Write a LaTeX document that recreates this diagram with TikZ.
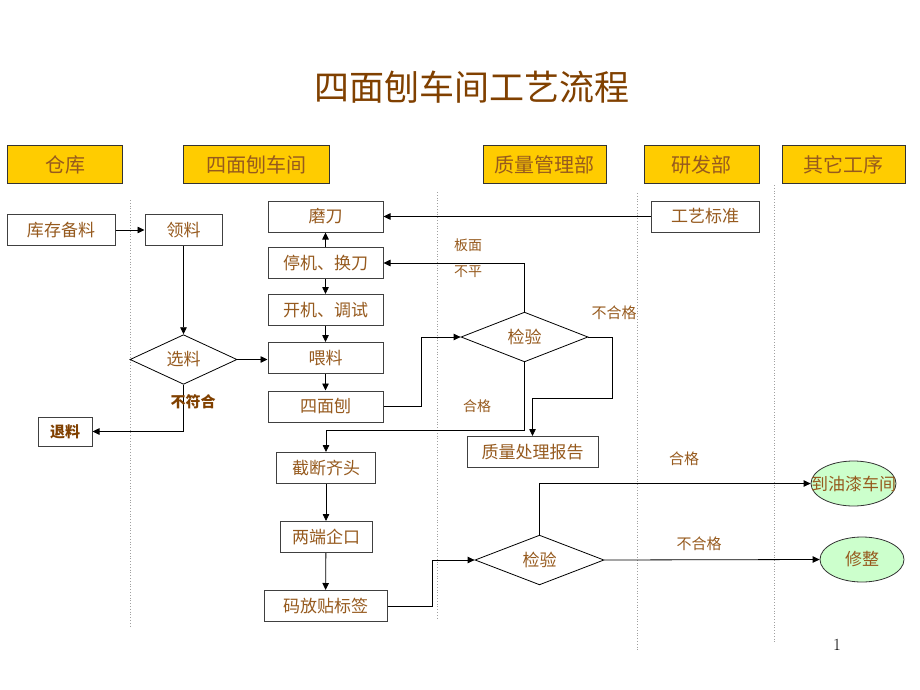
\documentclass[tikz,border=0pt]{standalone}
\usepackage{fontspec}
\newfontfamily\cjk{Noto Sans CJK SC}
\usetikzlibrary{shapes.geometric,arrows.meta}
\definecolor{headgold}{RGB}{255,204,0}
\definecolor{txtbrown}{RGB}{150,90,30}
\definecolor{darkbrown}{RGB}{128,64,0}
\definecolor{lanegray}{RGB}{160,160,160}
\definecolor{okgreen}{RGB}{204,255,204}

\begin{document}
\begin{tikzpicture}[x=1pt,y=-1pt]
\tikzstyle{every node}+=[inner sep=0pt, font=\cjk\fontsize{17}{17}\selectfont, text=txtbrown]
\tikzstyle{head}=[draw=black!80, line width=1pt, fill=headgold, minimum height=38pt, font=\cjk\fontsize{20}{20}\selectfont]
\tikzstyle{proc}=[draw=black!75, line width=1pt, fill=white, minimum height=31pt]
\tikzstyle{test}=[diamond, draw=black, line width=0.8pt, fill=white, minimum height=46pt]
\tikzstyle{goal}=[ellipse, draw=black!80, line width=0.8pt, fill=okgreen, minimum width=85pt, minimum height=45pt, font=\cjk\fontsize{17}{17}\selectfont]
\tikzstyle{flow}=[draw=black, line width=0.8pt, -{Triangle[length=7pt,width=6.5pt]}]
\tikzstyle{lane}=[draw=lanegray, line width=0.8pt, dotted]
\tikzstyle{note}=[font=\cjk\fontsize{14}{14}\selectfont]
\useasboundingbox (0,0) rectangle (920,690);
\node[font=\cjk\fontsize{35}{35}\selectfont, text=darkbrown] (title) at (472,87) {四面刨车间工艺流程};
\node[head, minimum width=115pt] (hwh) at (65,164.5) {仓库};
\node[head, minimum width=146pt] (hws) at (256,164.5) {四面刨车间};
\node[head, minimum width=123pt] (hqm) at (544.5,164.5) {质量管理部};
\node[head, minimum width=115pt] (hrd) at (701.5,164.5) {研发部};
\node[head, minimum width=123pt] (hot) at (843.5,164.5) {其它工序};
\draw[lane] (130,200) -- (130,627);
\draw[lane] (437,192) -- (437,620);
\draw[lane] (637,193) -- (637,650);
\draw[lane] (774,185) -- (774,642);
\node[proc, minimum width=108pt] (stock) at (61,230) {库存备料};
\node[proc, minimum width=77pt] (take) at (183.5,230) {领料};
\node[test, minimum width=107pt, minimum height=45pt] (pick) at (183.5,359.5) {选料};
\node[proc, minimum width=54pt, minimum height=29pt, font=\cjk\bfseries\fontsize{15}{15}\selectfont, text=darkbrown] (ret) at (65,431.5) {退料};
\node[proc, minimum width=115pt] (grind) at (325.5,216.5) {磨刀};
\node[proc, minimum width=115pt] (stop) at (325.5,263) {停机、换刀};
\node[proc, minimum width=115pt] (start) at (325.5,310) {开机、调试};
\node[proc, minimum width=115pt] (feed) at (325.5,358) {喂料};
\node[proc, minimum width=115pt] (plane) at (325.5,406.5) {四面刨};
\node[proc, minimum width=99pt] (cut) at (326,468) {截断齐头};
\node[proc, minimum width=92pt] (tongue) at (326,537) {两端企口};
\node[proc, minimum width=123pt] (stack) at (325.5,606) {码放贴标签};
\node[proc, minimum width=108pt] (std) at (705,216.5) {工艺标准};
\node[test, minimum width=127pt] (chk1) at (524.5,337) {检验};
\node[proc, minimum width=131pt] (report) at (532.5,452) {质量处理报告};
\node[test, minimum width=129pt] (chk2) at (539.5,560) {检验};
\node[goal, inner xsep=-25pt] (paint) at (853.5,483.5) {到油漆车间};
\node[goal, minimum width=84pt] (fix) at (862,559.5) {修整};
\coordinate (bend1) at (421,337);
\coordinate (bend2) at (432,560);
\coordinate (okturn) at (524.5,430);
\coordinate (nokturn) at (612,398);
\draw[flow] (stock) -- (take);
\draw[flow] (take) -- (pick);
\draw[flow] (pick.east) -- (pick.east -| feed.west);
\draw[flow] (pick.south) |- (ret);
\draw[flow] (stop) -- (grind);
\draw[flow] (stop) -- (start);
\draw[flow] (start) -- (feed);
\draw[flow] (feed) -- (plane);
\draw[flow] (std) -- (grind);
\draw[flow] (plane.east) -| (bend1) -- (chk1.west);
\draw[flow] (chk1.north) |- (stop.east);
\draw[flow] (chk1.south) -- (okturn) -| (cut.north);
\draw[flow] (chk1.east) -| (nokturn) -| (report.north);
\draw[flow] (cut) -- (tongue);
\draw[flow] (tongue) -- (stack);
\draw[flow] (stack.east) -| (bend2) -- (chk2.west);
\draw[flow] (chk2.north) |- (paint.west);
\draw[flow] (chk2.east) -- (fix.west);
\node[note] (uneven1) at (468,245) {板面};
\node[note] (uneven2) at (468,272) {不平};
\node[note] (pass1) at (477,406) {合格};
\node[note, font=\cjk\fontsize{15}{15}\selectfont] (fail1) at (614,313) {不合格};
\node[note, font=\cjk\fontsize{15}{15}\selectfont] (pass2) at (684,459) {合格};
\node[note, font=\cjk\fontsize{15}{15}\selectfont] (fail2) at (699,544) {不合格};
\node[font=\cjk\bfseries\fontsize{15}{15}\selectfont, text=darkbrown] (reject) at (193,402) {不符合};
\node[font=\fontsize{17}{17}\selectfont, text=black] (pageno) at (837,645) {1};
\end{tikzpicture}
\end{document}
